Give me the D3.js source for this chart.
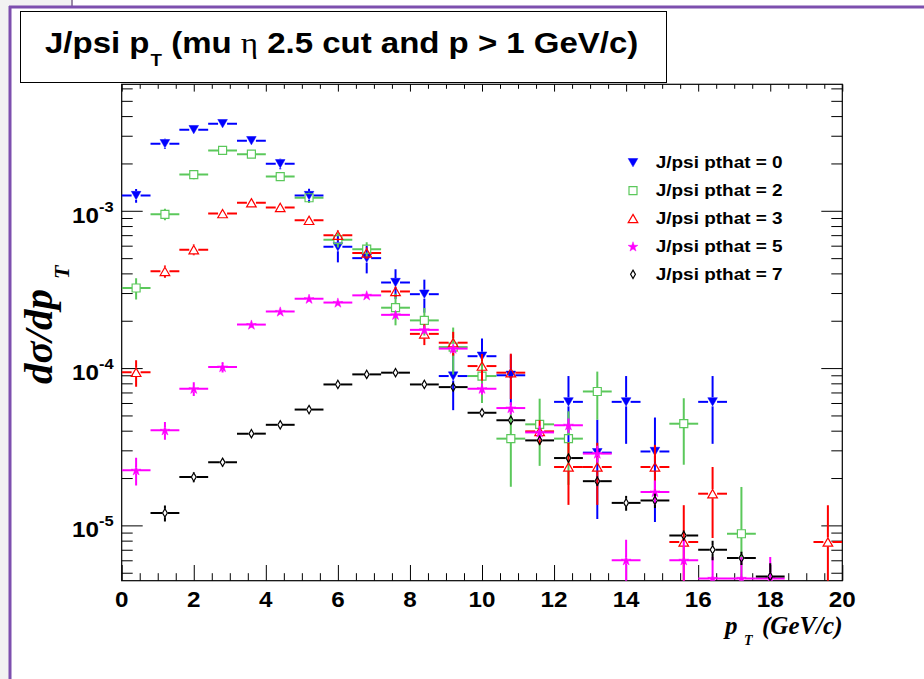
<!DOCTYPE html>
<html>
<head>
<meta charset="utf-8">
<script src="https://cdn.jsdelivr.net/npm/d3@7"></script>
<style>
  body { margin: 0; background: #fff; }
  svg text { font-family: "Liberation Sans", Arial, sans-serif; font-weight: bold; fill: #000; }
</style>
</head>
<body>
<div id="container"></div>
<script>
// bin centres (GeV/c), bins are 0.8 wide
var binCenters = [0.4, 1.2, 2.0, 2.8, 3.6, 4.4, 5.2, 6.0, 6.8, 7.6, 8.4, 9.2, 10.0,
  10.8, 11.6, 12.4, 13.2, 14.0, 14.8, 15.6, 16.4, 17.2, 18.0, 18.8, 19.6]
var binHalfWidth = 0.4

var seriesNames = ['J/psi pthat = 0', 'J/psi pthat = 2', 'J/psi pthat = 3', 'J/psi pthat = 5', 'J/psi pthat = 7']

// values, null = empty bin
var pthat0 = [1.25e-3, 2.67e-3, 3.28e-3, 3.58e-3, 2.79e-3, 1.99e-3, 1.25e-3, 5.9e-4, 5.0e-4, 3.5e-4, 2.95e-4, 8.9e-5, 1.19e-4,
  9.0e-5, null, 6.1e-5, 2.9e-5, 6.1e-5, 2.95e-5, null, 6.1e-5, null, null, null, null]
var pthat0Err = [1.25e-4, 2e-4, 2e-4, 2e-4, 1.8e-4, 1.5e-4, 1.3e-4, 1.2e-4, 1.0e-4, 7.5e-5, 7e-5, 3.5e-5, 3.5e-5,
  3.2e-5, null, 2.8e-5, 1.8e-5, 2.8e-5, 1.9e-5, null, 2.8e-5, null, null, null, null]

var pthat2 = [3.23e-4, 9.5e-4, 1.70e-3, 2.42e-3, 2.29e-3, 1.65e-3, 1.21e-3, 6.55e-4, 5.7e-4, 2.42e-4, 2.01e-4, 1.36e-4, 8.9e-5,
  3.56e-5, 4.39e-5, 3.56e-5, 7.1e-5, null, null, 4.43e-5, null, 8.85e-6, null, null, null]
var pthat2Err = [5e-5, 8e-5, 1.15e-4, 1.2e-4, 1.1e-4, 1e-4, 9e-5, 7e-5, 6e-5, 5.5e-5, 4e-5, 4.5e-5, 2.9e-5,
  1.8e-5, 2e-5, 1.75e-5, 2.4e-5, null, null, 2e-5, null, 8.7e-6, null, null, null]

var pthat3 = [9.4e-5, 4.12e-4, 5.66e-4, 9.6e-4, 1.125e-3, 1.05e-3, 8.7e-4, 7.0e-4, 5.4e-4, 3.07e-4, 1.65e-4, 1.45e-4, 1.03e-4,
  9.35e-5, 3.96e-5, 2.35e-5, 2.35e-5, null, 2.35e-5, 7.84e-6, 1.59e-5, null, null, null, 7.84e-6]
var pthat3Err = [1.8e-5, 3.7e-5, 4.5e-5, 4.8e-5, 5.6e-5, 5e-5, 4.8e-5, 5.2e-5, 4.5e-5, 2.3e-5, 2.5e-5, 2.5e-5, 2e-5,
  3e-5, 7e-6, 1e-5, 1e-5, null, 9e-6, 5.6e-6, 7.6e-6, null, null, null, 5.6e-6]

var pthat5 = [2.24e-5, 4.02e-5, 7.39e-5, 1.015e-4, 1.89e-4, 2.29e-4, 2.76e-4, 2.61e-4, 2.90e-4, 2.18e-4, 1.75e-4, 1.33e-4, 7.39e-5,
  5.57e-5, 3.9e-5, 4.33e-5, 2.86e-5, 6.0e-6, 1.63e-5, 6.0e-6, 4.6e-6, 4.6e-6, 4.6e-6, null, null]
var pthat5Err = [4.5e-6, 5.2e-6, 7.4e-6, 7.6e-6, 9e-6, 1e-5, 1.1e-5, 1.1e-5, 1.1e-5, 1e-5, 9e-6, 8e-6, 6e-6,
  5e-6, 4e-6, 4.5e-6, 3.5e-6, 2.1e-6, 3e-6, 2.1e-6, 1.7e-6, 1.7e-6, 1.7e-6, null, null]

var pthat7 = [null, 1.20e-5, 2.03e-5, 2.52e-5, 3.83e-5, 4.36e-5, 5.45e-5, 7.87e-5, 9.12e-5, 9.35e-5, 7.87e-5, 7.57e-5, 5.2e-5,
  4.66e-5, 3.47e-5, 2.68e-5, 1.91e-5, 1.39e-5, 1.44e-5, 8.63e-6, 7.0e-6, 6.2e-6, 4.74e-6, null, null]
var pthat7Err = [null, 1.4e-6, 1.5e-6, 1.6e-6, 1.8e-6, 1.9e-6, 2.2e-6, 2.6e-6, 2.8e-6, 2.8e-6, 2.6e-6, 2.5e-6, 2e-6,
  2e-6, 1.7e-6, 1.5e-6, 1.3e-6, 1.5e-6, 1.5e-6, 6e-7, 1e-6, 6e-7, 1e-6, null, null]

var xTickValues = [0, 2, 4, 6, 8, 10, 12, 14, 16, 18, 20]
var yDecades = [1e-5, 1e-4, 1e-3]
var yDecadeExponents = ['-5', '-4', '-3']

var width = 924, height = 679
// frame edges (note: "top" is taken by window.top, so prefix them)
var frameL = 121.7, frameR = 842.3, frameT = 84.3, frameB = 580.7

var svg = d3.select('#container').append('svg')
  .attr('width', width)
  .attr('height', height)

// slide frame around the canvas
svg.append('rect').attr('x', 0).attr('y', 0).attr('width', 10).attr('height', height).attr('fill', '#f2f2f2')
svg.append('rect').attr('x', 0).attr('y', 0).attr('width', 72).attr('height', 7).attr('fill', '#f2f2f2')
svg.append('line').attr('x1', 72).attr('x2', 72).attr('y1', 0).attr('y2', 7).attr('stroke', '#9a8aa8').attr('stroke-width', 2)
svg.append('line').attr('x1', 9).attr('x2', width).attr('y1', 7).attr('y2', 7).attr('stroke', '#7d4fae').attr('stroke-width', 3)
svg.append('line').attr('x1', 10).attr('x2', 10).attr('y1', 6).attr('y2', height).attr('stroke', '#7d4fae').attr('stroke-width', 3)

var x = d3.scaleLinear().domain([0, 20]).range([frameL, frameR])
var y = d3.scaleLog().domain([4.45e-6, 6.37e-3]).range([frameB, frameT])

var yMinor = y.ticks().filter(function (t) { return yDecades.indexOf(t) < 0 })
var xMinor = d3.range(0, 20.01, 0.5).filter(function (t) { return t % 2 != 0 })

function noDomain(g) {
  g.select('.domain').remove()
  g.selectAll('line').attr('stroke', '#000')
}

// ticks: all pointing into the frame
svg.append('g').attr('transform', 'translate(0,' + frameB + ')')
  .call(d3.axisBottom(x).tickValues(xTickValues).tickSizeInner(-15.7).tickSizeOuter(0).tickFormat(''))
  .call(noDomain)
svg.append('g').attr('transform', 'translate(0,' + frameB + ')')
  .call(d3.axisBottom(x).tickValues(xMinor).tickSizeInner(-7.5).tickSizeOuter(0).tickFormat(''))
  .call(noDomain)
svg.append('g').attr('transform', 'translate(0,' + frameT + ')')
  .call(d3.axisTop(x).tickValues(xTickValues).tickSizeInner(-7.3).tickSizeOuter(0).tickFormat(''))
  .call(noDomain)
svg.append('g').attr('transform', 'translate(0,' + frameT + ')')
  .call(d3.axisTop(x).tickValues(xMinor).tickSizeInner(-4.5).tickSizeOuter(0).tickFormat(''))
  .call(noDomain)
svg.append('g').attr('transform', 'translate(' + frameL + ',0)')
  .call(d3.axisLeft(y).tickValues(yDecades).tickSizeInner(-21).tickSizeOuter(0).tickFormat(''))
  .call(noDomain)
svg.append('g').attr('transform', 'translate(' + frameL + ',0)')
  .call(d3.axisLeft(y).tickValues(yMinor).tickSizeInner(-11).tickSizeOuter(0).tickFormat(''))
  .call(noDomain)
svg.append('g').attr('transform', 'translate(' + frameR + ',0)')
  .call(d3.axisRight(y).tickValues(yDecades).tickSizeInner(-21).tickSizeOuter(0).tickFormat(''))
  .call(noDomain)
svg.append('g').attr('transform', 'translate(' + frameR + ',0)')
  .call(d3.axisRight(y).tickValues(yMinor).tickSizeInner(-11).tickSizeOuter(0).tickFormat(''))
  .call(noDomain)

svg.append('rect')
  .attr('x', frameL).attr('y', frameT)
  .attr('width', frameR - frameL).attr('height', frameB - frameT)
  .attr('fill', 'none').attr('stroke', '#000').attr('stroke-width', 1.2)

// tick labels
svg.append('g').selectAll('g')
  .data(xTickValues)
  .enter().append('g')
  .attr('transform', function (d) { return 'translate(' + x(d) + ',606.5) scale(1.1,1)' })
  .append('text')
  .attr('text-anchor', 'middle')
  .style('font-size', '22px')
  .text(function (d) { return d })

var yLab = svg.append('g').selectAll('g')
  .data(yDecades)
  .enter().append('g')
  .attr('transform', function (d) { return 'translate(72,' + (y(d) + 12) + ') scale(1.1,1)' })
  .append('text')
  .style('font-size', '22px')
yLab.append('tspan').text('10')
yLab.append('tspan')
  .attr('dy', -11)
  .style('font-size', '15px')
  .text(function (d, i) { return yDecadeExponents[i] })

// axis titles
var xt = svg.append('text')
  .style('font-family', '"Liberation Serif", "Times New Roman", serif')
  .style('font-style', 'italic')
  .style('font-size', '25px')
xt.append('tspan').attr('x', 725).attr('y', 634).text('p')
xt.append('tspan').attr('x', 744).attr('y', 644.5).style('font-size', '14px').text('T')
xt.append('tspan').attr('x', 762).attr('y', 634).text('(GeV/c)')

var yt = svg.append('text')
  .attr('transform', 'translate(52,384) rotate(-90)')
  .style('font-family', '"Liberation Serif", "Times New Roman", serif')
  .style('font-style', 'italic')
  .style('font-size', '41px')
yt.append('tspan').text('dσ/dp')
yt.append('tspan').attr('dx', 10).attr('dy', 17).style('font-size', '22px').text('T')

// data
var series = [
  { name: seriesNames[0], values: pthat0, errors: pthat0Err, color: '#0000ff', marker: 'triDown' },
  { name: seriesNames[1], values: pthat2, errors: pthat2Err, color: '#5bc85b', marker: 'square' },
  { name: seriesNames[2], values: pthat3, errors: pthat3Err, color: '#ff0000', marker: 'triUp' },
  { name: seriesNames[3], values: pthat5, errors: pthat5Err, color: '#ff00ff', marker: 'star' },
  { name: seriesNames[4], values: pthat7, errors: pthat7Err, color: '#000000', marker: 'diamond' }
]

var markerDefs = {
  triDown: { path: d3.symbol(d3.symbolTriangle, 40)(), rot: 180, dy: -1.4, fill: true, gapX: 4.5, gapY: 4.5 },
  square: { path: d3.symbol(d3.symbolSquare, 64)(), rot: 0, dy: 0, fill: false, gapX: 4, gapY: 4 },
  triUp: { path: d3.symbol(d3.symbolTriangle, 40)(), rot: 0, dy: 1.4, fill: false, gapX: 4.5, gapY: 4.5 },
  star: { path: d3.symbol(d3.symbolStar, 30)(), rot: 0, dy: 0.5, fill: true, gapX: 3, gapY: 3 },
  diamond: { path: d3.symbol(d3.symbolDiamond, 20)(), rot: 0, dy: 0, fill: false, gapX: 2.8, gapY: 4.2 }
}

svg.append('clipPath').attr('id', 'plotclip')
  .append('rect').attr('x', frameL).attr('y', frameT).attr('width', frameR - frameL).attr('height', frameB - frameT)

var plot = svg.append('g').attr('clip-path', 'url(#plotclip)')

series.forEach(function (s) {
  var m = markerDefs[s.marker]
  var pts = []
  binCenters.forEach(function (c, i) {
    if (s.values[i] != null) pts.push({ c: c, v: s.values[i], e: s.errors[i] })
  })
  var g = plot.append('g')
  var segs = []
  pts.forEach(function (p) {
    var cx = x(p.c), cy = y(p.v)
    segs.push([x(p.c - binHalfWidth), cy, cx - m.gapX, cy])
    segs.push([cx + m.gapX, cy, x(p.c + binHalfWidth), cy])
    var yHi = y(p.v + p.e)
    var yLo = (p.v - p.e) > y.domain()[0] ? y(p.v - p.e) : frameB + 5
    if (cy - m.gapY > yHi) segs.push([cx, yHi, cx, cy - m.gapY])
    if (yLo > cy + m.gapY) segs.push([cx, cy + m.gapY, cx, yLo])
  })
  g.selectAll('line')
    .data(segs)
    .enter().append('line')
    .attr('x1', function (d) { return d[0] })
    .attr('y1', function (d) { return d[1] })
    .attr('x2', function (d) { return d[2] })
    .attr('y2', function (d) { return d[3] })
    .attr('stroke', s.color)
    .attr('stroke-width', 2)
  g.selectAll('path')
    .data(pts)
    .enter().append('path')
    .attr('d', m.path)
    .attr('transform', function (d) {
      return 'translate(' + x(d.c) + ',' + (y(d.v) + m.dy) + ') rotate(' + m.rot + ')'
    })
    .attr('fill', m.fill ? s.color : 'none')
    .attr('stroke', s.color)
    .attr('stroke-width', m.fill ? 0.5 : 1.2)
})

// legend (no box)
var legend = svg.append('g').selectAll('g')
  .data(series)
  .enter().append('g')
  .attr('transform', function (d, i) { return 'translate(633,' + (162.7 + i * 27.9) + ')' })
legend.append('path')
  .attr('d', function (d) { return markerDefs[d.marker].path })
  .attr('transform', function (d) { var m = markerDefs[d.marker]; return 'translate(0,' + m.dy + ') rotate(' + m.rot + ')' })
  .attr('fill', function (d) { return markerDefs[d.marker].fill ? d.color : 'none' })
  .attr('stroke', function (d) { return d.color })
  .attr('stroke-width', function (d) { return markerDefs[d.marker].fill ? 0.5 : 1.2 })
legend.append('g')
  .attr('transform', 'translate(22.7,5.5) scale(1.15,1)')
  .append('text')
  .style('font-size', '16.5px')
  .text(function (d) { return d.name })

// title box
svg.append('rect')
  .attr('x', 20.5).attr('y', 11.5)
  .attr('width', 646).attr('height', 71)
  .attr('fill', '#fff').attr('stroke', '#000').attr('stroke-width', 1)
var title = svg.append('g')
  .attr('transform', 'translate(45,53.3) scale(1.1,1)')
  .append('text')
  .style('font-size', '30px')
title.append('tspan').text('J/psi p')
title.append('tspan').attr('dx', 1).attr('dy', 12.5).style('font-size', '17px').text('T')
title.append('tspan').attr('dy', -12.5).text(' (mu ')
title.append('tspan')
  .style('font-family', '"Liberation Serif", "Times New Roman", serif')
  .style('font-weight', 'normal')
  .text('η')
title.append('tspan').text(' 2.5 cut and p > 1 GeV/c)')
</script>
</body>
</html>
